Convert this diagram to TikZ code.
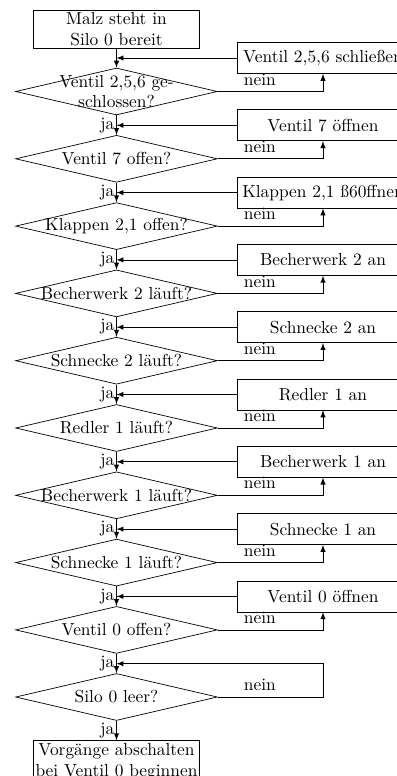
\documentclass[tikz,border=0pt]{standalone}
\usetikzlibrary{shapes.geometric,positioning}

\begin{document}
\begin{tikzpicture}[x=0.575pt, y=-0.575pt, >=latex]
    \tikzset{
        box/.style={rectangle, draw, text width=95pt, inner xsep=0.3pt, inner ysep=1.5pt, align=center},
        action/.style={rectangle, draw, text width=97pt, inner xsep=1pt, minimum height=17.8pt, align=center},
        decision/.style={diamond, draw, aspect=4.3, minimum width=116pt, minimum height=27pt, inner sep=-3pt, align=center},
        flow/.style={->, thin}
    }
    \useasboundingbox (0,0) rectangle (397,776);
    \clip (0,0) rectangle (397,776);
    % start and end
    \node[box] (start) at (116.5,29.5) {Malz steht in\\Silo 0 bereit};
    \node[box] (stop) at (116.5,761.5) {Vorgänge abschalten\\bei Ventil 0 beginnen};
    % checks with their actions
    \foreach \i/\test/\todo in {
        1/{Ventil 2,5,6 ge-\\schlossen?}/{Ventil 2,5,6 schließen},
        2/{Ventil 7 offen?}/{Ventil 7 öffnen},
        3/{Klappen 2,1 offen?}/{Klappen 2,1 ß60ffnen},
        4/{Becherwerk 2 läuft?}/{Becherwerk 2 an},
        5/{Schnecke 2 läuft?}/{Schnecke 2 an},
        6/{Redler 1 läuft?}/{Redler 1 an},
        7/{Becherwerk 1 läuft?}/{Becherwerk 1 an},
        8/{Schnecke 1 läuft?}/{Schnecke 1 an},
        9/{Ventil 0 offen?}/{Ventil 0 öffnen}} {
        \node[decision] (d\i) at (116.5, {91.5+67.3*(\i-1)}) {\test};
        \node[action] (a\i) at (323, {58+67.3*(\i-1)}) {\todo};
        \draw[flow] (a\i.west) -- (a\i.west -| d\i.north);
        \draw[flow] (d\i.east) -| node[pos=0.2, above] {nein} (a\i.south);
    }
    \node[decision] (d10) at (116.5, 697) {Silo 0 leer?};
    \coordinate (back) at (323, 663.7);
    \draw[flow] (d10.east) -| node[pos=0.2, above] {nein} (back) -- (back -| d10.north);
    % ja path
    \draw[flow] (start) -- (d1);
    \foreach \i [evaluate=\i as \j using int(\i+1)] in {1,...,9}
        \draw[flow] (d\i) -- node[left, inner sep=1pt] {ja} (d\j);
    \draw[flow] (d10) -- node[left, inner sep=1pt] {ja} (stop);
\end{tikzpicture}
\end{document}
